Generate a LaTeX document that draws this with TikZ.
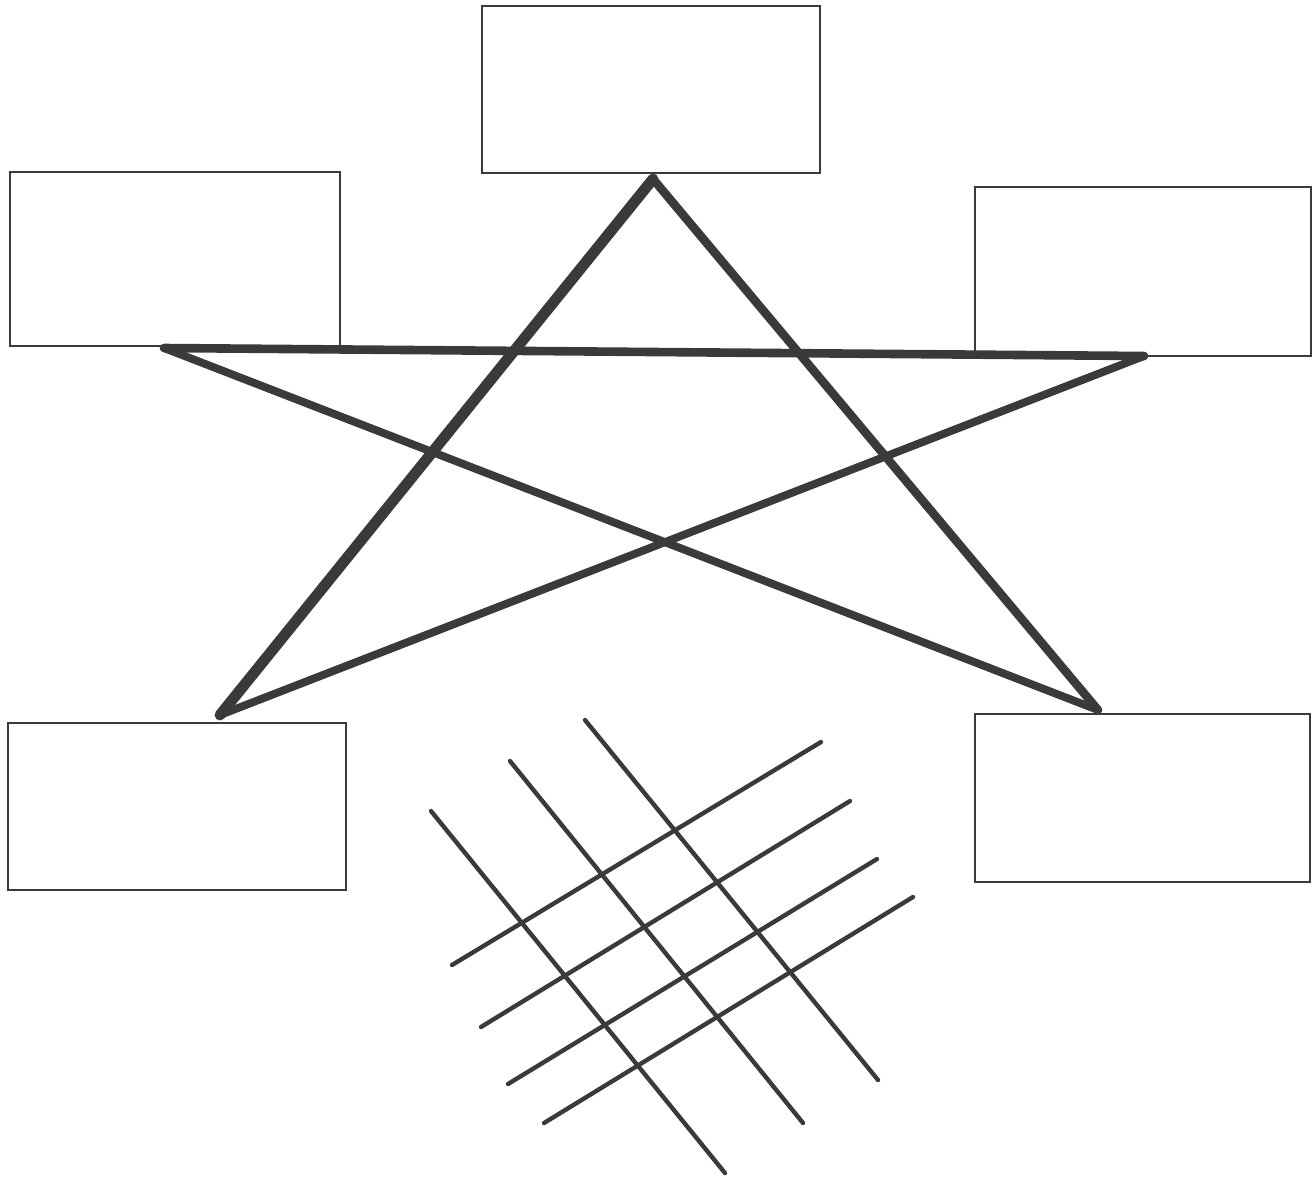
\documentclass[tikz,border=0pt]{standalone}
\usetikzlibrary{positioning}
\definecolor{ink}{HTML}{3A3A3A}
\tikzset{
  box/.style={draw=ink, line width=1.2pt, inner sep=0pt},
  starline/.style={draw=ink, line width=4.9pt, line cap=round},
  gridline/.style={draw=ink, line width=2.5pt, line cap=round}
}
\begin{document}
\begin{tikzpicture}[x=0.02cm, y=-0.02cm]
        \useasboundingbox (0,0) rectangle (1314,1178);

        % Boxes
        \node[box, minimum width=6.76cm, minimum height=3.34cm] (top) at (651,89.5) {};
        \node[box, minimum width=6.6cm, minimum height=3.48cm] (left) at (175,259) {};
        \node[box, minimum width=6.72cm, minimum height=3.38cm] (right) at (1143,271.5) {};
        \node[box, minimum width=6.76cm, minimum height=3.34cm] (botleft) at (177,806.5) {};
        \node[box, minimum width=6.7cm, minimum height=3.36cm] (botright) at (1142.5,798) {};

        % Star points
        \coordinate (ptop) at (653,179);
        \coordinate (pleft) at (164,348);
        \coordinate (pright) at (1144,356);
        \coordinate (pbotleft) at (220,715);
        \coordinate (pbotright) at (1098,710);

        % Star
        \draw[starline, line width=6.2pt] (ptop) -- (pbotleft);
        \draw[starline] (ptop) -- (pbotright);
        \draw[starline] (pleft) -- (pright);
        \draw[starline, line width=4.5pt] (pleft) -- (pbotright);
        \draw[starline, line width=4.5pt] (pright) -- (pbotleft);

        % Grid lines
        \foreach \xa/\ya/\xb/\yb in {431/811/725/1173, 510/761/803/1123, 585/720/878/1080}
          \draw[gridline] (\xa,\ya) -- (\xb,\yb);
        \foreach \xa/\ya/\xb/\yb in {452/965/821/742, 481/1027/850/801, 508/1084/877/859, 544/1123/913/897}
          \draw[gridline] (\xa,\ya) -- (\xb,\yb);

\end{tikzpicture}
\end{document}
